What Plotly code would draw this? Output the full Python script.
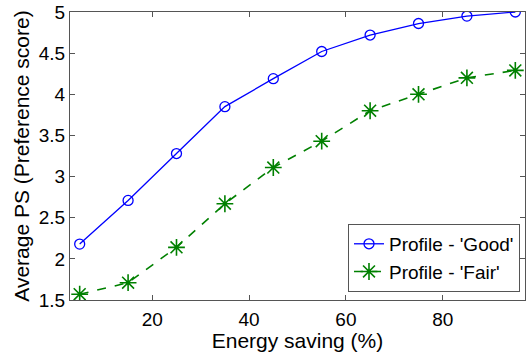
import plotly.graph_objects as go

energy = [5, 15, 25, 35, 45, 55, 65, 75, 85, 95]
good = [2.18, 2.71, 3.28, 3.85, 4.19, 4.52, 4.72, 4.86, 4.95, 5.0]
fair = [1.57, 1.71, 2.14, 2.67, 3.11, 3.43, 3.80, 4.00, 4.20, 4.29]
x_ticks = [20, 40, 60, 80]
y_ticks = [1.5, 2, 2.5, 3, 3.5, 4, 4.5, 5]

FONT = "Liberation Sans, Arial"

fig = go.Figure()
fig.add_trace(go.Scatter(
    x=energy, y=good, mode="lines+markers", name="Profile - 'Good'",
    line=dict(color="#0000FF", width=1.3),
    marker=dict(symbol="circle-open", size=10, color="#0000FF", line=dict(width=1.3)),
))
fig.add_trace(go.Scatter(
    x=energy, y=fair, mode="lines+markers", name="Profile - 'Fair'",
    line=dict(color="#008000", width=1.6, dash="dash"),
    marker=dict(symbol="asterisk-open", size=14, color="#008000", line=dict(width=1.6, color="#008000")),
))

axis_common = dict(
    showgrid=False, zeroline=False, showline=True, linecolor="#555555", linewidth=1,
    mirror="ticks", ticks="inside", ticklen=5, tickcolor="#555555",
    tickfont=dict(family=FONT, size=19, color="black"), automargin=False,
)
fig.update_xaxes(range=[3, 97], tickvals=x_ticks, ticklabelstandoff=2,
                 title=dict(text="Energy saving (%)", font=dict(family=FONT, size=21, color="black"), standoff=0),
                 **axis_common)
fig.update_yaxes(range=[1.5, 5], tickvals=y_ticks, ticktext=[("%g" % v) for v in y_ticks],
                 title=dict(text="Average PS (Preference score)", font=dict(family=FONT, size=21, color="black"), standoff=3),
                 **axis_common)
fig.update_layout(
    width=531, height=352,
    margin=dict(l=70, r=6, t=12, b=52),
    paper_bgcolor="white", plot_bgcolor="white",
    legend=dict(x=0.989, y=0.028, xanchor="right", yanchor="bottom",
                bordercolor="#555555", borderwidth=1, bgcolor="white",
                font=dict(family=FONT, size=19, color="black"),
                tracegroupgap=0, itemwidth=30),
)
fig.write_html("out.html", config={"displayModeBar": False},
               post_script="document.body.style.margin='0';document.body.style.overflow='hidden';")
